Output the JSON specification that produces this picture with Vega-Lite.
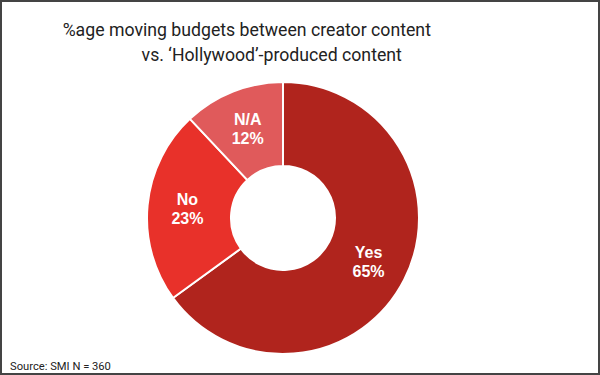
{
  "$schema": "https://vega.github.io/schema/vega-lite/v6.json",
  "width": 598,
  "height": 373,
  "autosize": {"type": "none"},
  "padding": 1,
  "background": "white",
  "view": {"stroke": "#444444", "strokeWidth": 2, "fill": "white"},
  "title": {
    "text": ["\u200b\u00a0\u00a0\u00a0\u00a0\u00a0\u00a0\u00a0\u00a0\u00a0\u00a0\u00a0\u00a0%age moving budgets between creator content", "\u200b\u00a0\u00a0\u00a0\u00a0\u00a0\u00a0\u00a0\u00a0\u00a0\u00a0\u00a0\u00a0\u00a0\u00a0\u00a0\u00a0\u00a0\u00a0\u00a0\u00a0\u00a0\u00a0\u00a0\u00a0\u00a0\u00a0\u00a0\u00a0\u00a0\u00a0vs. \u2018Hollywood\u2019-produced content"],
    "subtitle": "Source: SMI N = 360",
    "orient": "top",
    "anchor": "start",
    "offset": -371,
    "dx": 9,
    "font": "Roboto",
    "fontSize": 17.7,
    "fontWeight": "normal",
    "color": "#222222",
    "lineHeight": 25,
    "subtitleFont": "Roboto",
    "subtitleFontSize": 11.2,
    "subtitleColor": "#222222",
    "subtitlePadding": 296
  },
  "data": {
    "values": [
      {"answer": "Yes", "share": 0.65, "rank": 1},
      {"answer": "No", "share": 0.23, "rank": 2},
      {"answer": "N/A", "share": 0.12, "rank": 3}
    ]
  },
  "encoding": {
    "theta": {"field": "share", "type": "quantitative", "stack": true},
    "order": {"field": "rank", "type": "quantitative"}
  },
  "layer": [
    {
      "mark": {"type": "arc", "outerRadius": 136, "innerRadius": 52, "stroke": "white", "strokeWidth": 2, "x": 282, "y": 217},
      "encoding": {
        "color": {
          "field": "answer",
          "type": "nominal",
          "scale": {"domain": ["Yes", "No", "N/A"], "range": ["#b0241d", "#e8312a", "#e05a5b"]},
          "legend": null
        }
      }
    },
    {
      "mark": {"type": "text", "radius": 96, "x": 282, "y": 217, "dy": -9, "font": "Liberation Sans", "fontWeight": "bold", "fontSize": 16, "fill": "white"},
      "encoding": {
        "text": {"field": "answer", "type": "nominal"},
        "detail": {"field": "answer", "type": "nominal"}
      }
    },
    {
      "mark": {"type": "text", "radius": 96, "x": 282, "y": 217, "dy": 10, "font": "Liberation Sans", "fontWeight": "bold", "fontSize": 16, "fill": "white"},
      "encoding": {
        "text": {"field": "share", "type": "quantitative", "format": ".0%"},
        "detail": {"field": "answer", "type": "nominal"}
      }
    }
  ]
}
